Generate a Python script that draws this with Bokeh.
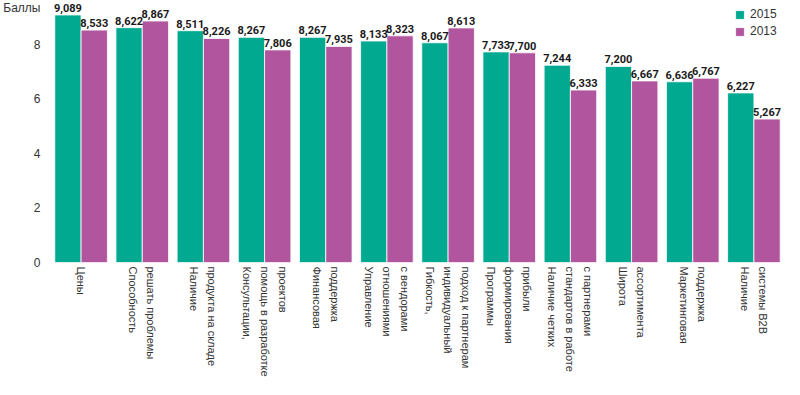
from bokeh.plotting import figure
from bokeh.models import ColumnDataSource, FixedTicker, Legend, LegendItem
from bokeh.transform import dodge
from bokeh.core.properties import value
from bokeh.embed import file_html
from bokeh.resources import INLINE

categories = [
    "Цены",
    "Способность\nрешать проблемы",
    "Наличие\nпродукта на складе",
    "Консультации,\nпомощь в разработке\nпроектов",
    "Финансовая\nподдержка",
    "Управление\nотношениями\nс вендорами",
    "Гибкость,\nиндивидуальный\nподход к партнерам",
    "Программы\nформирования\nприбыли",
    "Наличие четких\nстандартов в работе\nс партнерами",
    "Широта\nассортимента",
    "Маркетинговая\nподдержка",
    "Наличие\nсистемы B2B",
]
v2015 = [9.089, 8.622, 8.511, 8.267, 8.267, 8.133, 8.067, 7.733, 7.244, 7.200, 6.636, 6.227]
v2013 = [8.533, 8.867, 8.226, 7.806, 7.935, 8.323, 8.613, 7.700, 6.333, 6.667, 6.767, 5.267]
y_ticks = [0, 2, 4, 6, 8]
series_names = ["2015", "2013"]
y_title = "Баллы"

GREEN = "#00A98F"
PURPLE = "#B2559F"


def fmt(v):
    return f"{v:.3f}".replace(".", ",")


# Bokeh stacks the lines of a vertical label right-to-left, so the factor
# strings carry the lines in reverse order to read left-to-right as in the original.
factors = ["\n".join(reversed(c.split("\n"))) for c in categories]

src = ColumnDataSource(dict(
    cat=factors,
    v2015=v2015,
    v2013=v2013,
    l2015=[fmt(v) for v in v2015],
    l2013=[fmt(v) for v in v2013],
))

YMAX = 9.62
p = figure(
    x_range=factors, y_range=(0, YMAX),
    width=784, height=379,
    output_backend="svg", toolbar_location=None,
    min_border_left=44, min_border_right=0, min_border_top=0, min_border_bottom=0,
)
p.x_range.range_padding = 0
p.outline_line_color = None
p.grid.visible = False

bw = 0.43
r1 = p.vbar(x=dodge("cat", -bw / 2, range=p.x_range), top="v2015", width=bw, source=src,
            fill_color=GREEN, line_color="white", line_width=0.8)
r2 = p.vbar(x=dodge("cat", bw / 2, range=p.x_range), top="v2013", width=bw, source=src,
            fill_color=PURPLE, line_color="white", line_width=0.8)

for off, col in ((-bw / 2, "2015"), (bw / 2, "2013")):
    p.text(x=dodge("cat", off, range=p.x_range), y="v" + col, text="l" + col, source=src,
           text_align="center", text_baseline="bottom", y_offset=-3,
           text_font=value("Roboto"), text_font_style="bold",
           text_font_size="11px", text_color="#1a1a1a")

# y axis: the unit title "Баллы" sits at the top of the axis, like a top tick label
title_pos = YMAX - 0.22
p.yaxis.ticker = FixedTicker(ticks=y_ticks + [title_pos])
p.yaxis.major_label_overrides = {title_pos: y_title}
p.yaxis.axis_line_color = None
p.yaxis.major_tick_line_color = None
p.yaxis.minor_tick_line_color = None
p.yaxis.major_tick_out = 0
p.yaxis.major_tick_in = 0
p.yaxis.major_label_text_font = "Liberation Sans"
p.yaxis.major_label_text_font_size = "12px"
p.yaxis.major_label_text_color = "#333333"
p.yaxis.major_label_standoff = 10

p.xaxis.axis_line_color = None
p.xaxis.major_tick_line_color = None
p.xaxis.minor_tick_line_color = None
p.xaxis.major_tick_out = 0
p.xaxis.major_tick_in = 0
p.xaxis.major_label_orientation = "vertical"
p.xaxis.major_label_text_font = "Liberation Sans"
p.xaxis.major_label_text_font_size = "11px"
p.xaxis.major_label_text_color = "#333333"
p.xaxis.major_label_text_line_height = 1.5
p.xaxis.major_label_standoff = 4

legend = Legend(items=[LegendItem(label=series_names[0], renderers=[r1]),
                       LegendItem(label=series_names[1], renderers=[r2])],
                location=(684, 224))
legend.border_line_color = None
legend.background_fill_alpha = 0
legend.label_text_font = "Liberation Sans"
legend.label_text_font_size = "12px"
legend.label_text_color = "#333333"
legend.glyph_width = 11
legend.glyph_height = 11
legend.label_standoff = 5
legend.label_height = 14
legend.spacing = 3
legend.padding = 3
legend.margin = 0
p.add_layout(legend)

open("out.html", "w").write(file_html(p, INLINE))
